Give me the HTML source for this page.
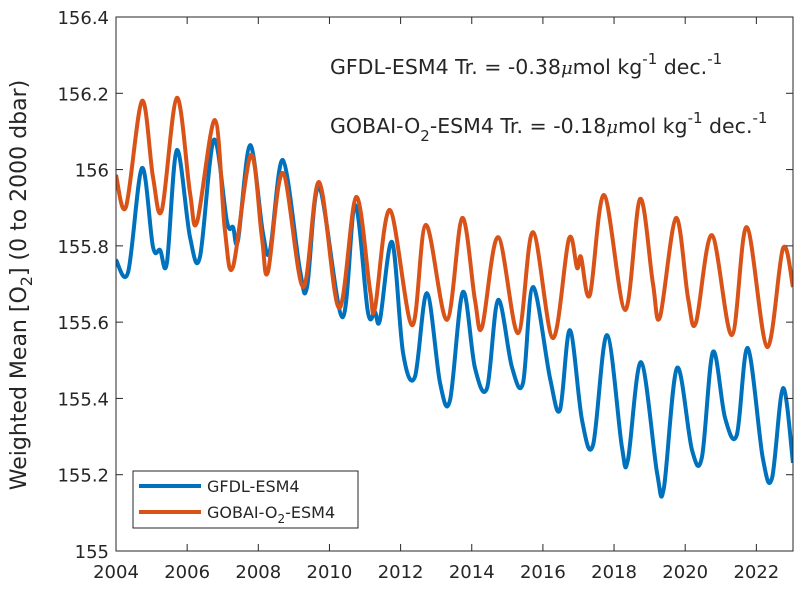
<!DOCTYPE html>
<html><head><meta charset="utf-8"><style>
body{margin:0;background:#fff;width:803px;height:590px;overflow:hidden}
svg text{font-family:"DejaVu Sans",sans-serif;fill:#262626}
</style></head><body>
<svg id="chart" width="803" height="590" xmlns="http://www.w3.org/2000/svg"></svg>
<script>
const blueYears=[2004.0,2004.34,2004.73,2005.04,2005.24,2005.43,2005.71,2006.08,2006.36,2006.75,2007.12,2007.29,2007.43,2007.77,2008.13,2008.33,2008.69,2009.17,2009.37,2009.71,2010.36,2010.72,2011.08,2011.28,2011.42,2011.76,2012.07,2012.40,2012.74,2013.11,2013.39,2013.75,2014.09,2014.43,2014.74,2015.13,2015.44,2015.72,2016.20,2016.48,2016.76,2017.10,2017.41,2017.80,2018.22,2018.39,2018.76,2019.21,2019.40,2019.77,2020.19,2020.47,2020.78,2021.12,2021.45,2021.76,2022.18,2022.44,2022.75,2023.03];
const blueValues=[155.763,155.731,156.004,155.797,155.789,155.755,156.051,155.823,155.771,156.078,155.863,155.849,155.815,156.064,155.834,155.789,156.025,155.737,155.692,155.954,155.613,155.907,155.627,155.627,155.606,155.810,155.519,155.456,155.676,155.440,155.396,155.679,155.480,155.427,155.658,155.482,155.440,155.692,155.453,155.370,155.579,155.343,155.278,155.566,155.273,155.239,155.495,155.204,155.165,155.480,155.265,155.246,155.522,155.349,155.304,155.532,155.244,155.191,155.427,155.231];
const orangeYears=[2004.0,2004.28,2004.73,2005.04,2005.29,2005.71,2006.08,2006.28,2006.78,2007.06,2007.29,2007.79,2008.10,2008.27,2008.69,2009.26,2009.71,2010.27,2010.75,2011.14,2011.28,2011.70,2012.32,2012.71,2013.30,2013.73,2014.09,2014.29,2014.74,2015.30,2015.72,2016.28,2016.73,2016.96,2017.07,2017.32,2017.72,2018.31,2018.73,2019.09,2019.29,2019.74,2020.08,2020.30,2020.75,2021.31,2021.73,2022.30,2022.75,2023.03];
const orangeValues=[155.986,155.902,156.180,155.980,155.894,156.188,155.939,155.863,156.130,155.842,155.745,156.038,155.823,155.731,155.991,155.692,155.967,155.637,155.928,155.684,155.637,155.894,155.592,155.855,155.606,155.873,155.658,155.587,155.823,155.571,155.836,155.558,155.818,155.742,155.771,155.671,155.933,155.632,155.923,155.703,155.613,155.873,155.663,155.598,155.828,155.566,155.849,155.535,155.794,155.692];
const xTicks=[2004,2006,2008,2010,2012,2014,2016,2018,2020,2022];
const yTicks=[155,155.2,155.4,155.6,155.8,156,156.2,156.4];
const yTickLabels=["155","155.2","155.4","155.6","155.8","156","156.2","156.4"];

const L=116,R=793,T=17,B=551,X0=2004,X1=2023.03,Y0=155,Y1=156.4;
const xs=v=>L+(v-X0)/(X1-X0)*(R-L);
const ys=v=>B-(v-Y0)/(Y1-Y0)*(B-T);
const svg=document.getElementById('chart');
const NS='http://www.w3.org/2000/svg';
function mk(tag,attrs,parent){const e=document.createElementNS(NS,tag);for(const k in attrs)e.setAttribute(k,attrs[k]);(parent||svg).appendChild(e);return e;}

const clip=mk('clipPath',{id:'pc'});mk('rect',{x:L,y:T,width:R-L,height:B-T},clip);

function smoothPath(xa,ya){
  const p=xa.map((x,i)=>[xs(x),ys(ya[i])]);
  let d='M'+p[0][0]+','+p[0][1];
  for(let i=0;i<p.length-1;i++){
    const p0=p[Math.max(0,i-1)],p1=p[i],p2=p[i+1],p3=p[Math.min(p.length-1,i+2)];
    const c1x=p1[0]+(p2[0]-p0[0])/6,c1y=p1[1]+(p2[1]-p0[1])/6;
    const c2x=p2[0]-(p3[0]-p1[0])/6,c2y=p2[1]-(p3[1]-p1[1])/6;
    d+=' C'+c1x+','+c1y+' '+c2x+','+c2y+' '+p2[0]+','+p2[1];
  }
  return d;
}
const bl=mk('path',{d:smoothPath(blueYears,blueValues),fill:'none',stroke:'#0072BD','stroke-width':4,'clip-path':'url(#pc)','stroke-linejoin':'round'});


const ol=mk('path',{d:smoothPath(orangeYears,orangeValues),fill:'none',stroke:'#D95319','stroke-width':4,'clip-path':'url(#pc)','stroke-linejoin':'round'});



const box=mk('rect',{x:L,y:T,width:R-L,height:B-T,fill:'none',stroke:'#262626','stroke-width':1});


xTicks.forEach(t=>{
  const x=xs(t);
  mk('line',{x1:x,x2:x,y1:B,y2:B-7,stroke:'#262626'});
  mk('line',{x1:x,x2:x,y1:T,y2:T+7,stroke:'#262626'});
  const tx=mk('text',{x:x,y:B+27,'text-anchor':'middle','font-size':18});
  tx.textContent=t;
  
  
});
yTicks.forEach((t,i)=>{
  const y=ys(t);
  mk('line',{x1:L,x2:L+7,y1:y,y2:y,stroke:'#262626'});
  mk('line',{x1:R,x2:R-7,y1:y,y2:y,stroke:'#262626'});
  const tx=mk('text',{x:L-7,y:y+7,'text-anchor':'end','font-size':18});
  tx.textContent=yTickLabels[i];
  
  
});
</script>
<svg style="position:absolute;left:0;top:0" width="803" height="590" xmlns="http://www.w3.org/2000/svg">
<text transform="translate(26,285) rotate(-90)" text-anchor="middle" font-size="22" style="font-family:'DejaVu Sans',sans-serif;fill:#262626">Weighted Mean [O<tspan font-size="16" dy="6">2</tspan><tspan dy="-6">] (0 to 2000 dbar)</tspan></text>
<text x="330" y="74" font-size="20.5" style="font-family:'DejaVu Sans',sans-serif">GFDL-ESM4 Tr. = -0.38<tspan font-style="italic" font-family="'DejaVu Serif',serif" font-size="18">μ</tspan>mol kg<tspan font-size="15" dy="-10">-1</tspan><tspan dy="10"> dec.</tspan><tspan font-size="15" dy="-10">-1</tspan></text>
<text x="330" y="133" font-size="20.5" style="font-family:'DejaVu Sans',sans-serif">GOBAI-O<tspan font-size="15" dy="8">2</tspan><tspan dy="-8">-ESM4 Tr. = -0.18</tspan><tspan font-style="italic" font-family="'DejaVu Serif',serif" font-size="18">μ</tspan>mol kg<tspan font-size="15" dy="-10">-1</tspan><tspan dy="10"> dec.</tspan><tspan font-size="15" dy="-10">-1</tspan></text>
<g>
<rect x="133" y="471" width="225" height="57" fill="#fff" stroke="#262626"/>
<line x1="139" x2="201" y1="486" y2="486" stroke="#0072BD" stroke-width="4"/>
<text x="207" y="492" font-size="16" style="font-family:'DejaVu Sans',sans-serif">GFDL-ESM4</text>
<line x1="139" x2="201" y1="512" y2="512" stroke="#D95319" stroke-width="4"/>
<text x="207" y="518" font-size="16" style="font-family:'DejaVu Sans',sans-serif">GOBAI-O<tspan font-size="12" dy="5">2</tspan><tspan dy="-5">-ESM4</tspan></text>
</g>
</svg>
</body></html>
